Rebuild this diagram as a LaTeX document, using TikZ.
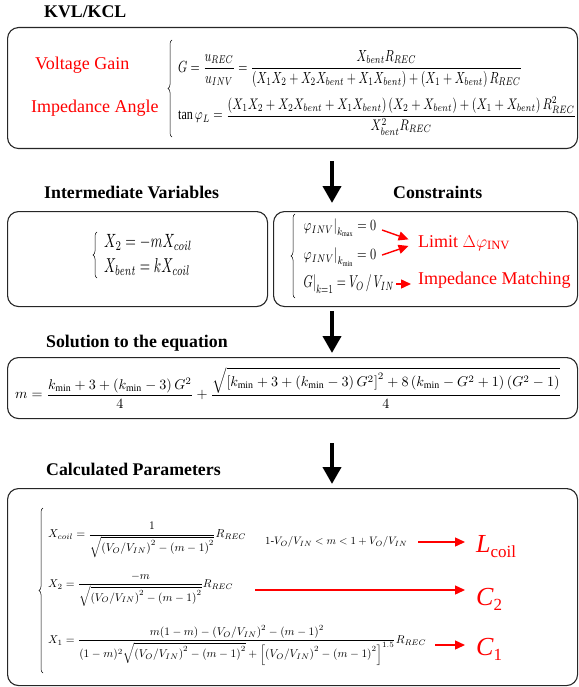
\documentclass[tikz,border=0pt]{standalone}
\usepackage{amsmath}
\usepackage{fontspec}
\setmainfont{Liberation Serif}
\usetikzlibrary{arrows.meta,decorations.pathreplacing,calc}
\newcommand\eqw[2]{\resizebox{#1}{!}{$\displaystyle #2$}}
\newcommand\eqwh[3]{\resizebox*{#1}{#2}{$\displaystyle #3$}}
\newcommand\redsym[2]{{\itshape #1}\raisebox{-0.22em}{\fontsize{17}{18}\selectfont #2}}
\begin{document}
\begin{tikzpicture}[x=1pt,y=1pt,
 box/.style={draw=black!85,line width=1.1pt,rounded corners=11pt,anchor=north west,inner sep=0},
 ttl/.style={font=\rmfamily\fontsize{17.8}{20}\selectfont\bfseries,inner sep=0,anchor=base west},
 lbl/.style={font=\rmfamily\fontsize{18}{20}\selectfont,text=red,inner sep=0,anchor=base west},
 lblb/.style={font=\rmfamily\fontsize{26}{28}\selectfont,text=red,inner sep=0,anchor=base west},
 eq/.style={inner sep=0,anchor=west},
 bigarrow/.style={line width=4pt,-{Triangle[length=17pt,width=18pt]}},
 redarrow/.style={red,line width=1.4pt,-{Triangle[length=10pt,width=9pt]}},
 brc/.style={decorate,decoration={brace,amplitude=4pt},line width=0.5pt}]
\useasboundingbox (0,0) rectangle (578,-687);

% titles
\node[ttl] (t1) at (44,-18) {KVL/KCL};
\node[ttl] (t2) at (44,-198) {Intermediate Variables};
\node[ttl] (t3) at (393,-198) {Constraints};
\node[ttl] (t4) at (46,-347) {Solution to the equation};
\node[ttl] (t5) at (46,-475) {Calculated Parameters};

% boxes
\node[box,minimum width=570pt,minimum height=121pt] (b1) at (7,-27) {};
\node[box,minimum width=260pt,minimum height=95pt] (b2) at (7,-211) {};
\node[box,minimum width=304pt,minimum height=95pt] (b3) at (273,-211) {};
\node[box,minimum width=570pt,minimum height=61pt] (b4) at (7,-357) {};
\node[box,minimum width=570pt,minimum height=197pt] (b5) at (7,-488) {};

% big arrows
\coordinate (ax) at (332,0);
\draw[bigarrow] ($(b1.south -| ax)+(0,-12)$) -- ($(b2.north -| ax)+(0,8)$);
\draw[bigarrow] ($(b3.south -| ax)+(0,-4)$) -- ($(b4.north -| ax)+(0,4)$);
\draw[bigarrow] ($(b4.south -| ax)+(0,-24)$) -- ($(b5.north -| ax)+(0,4)$);

% box 1
\node[lbl] (vg) at (35,-70) {Voltage Gain};
\node[lbl] (ia) at (31,-113) {Impedance Angle};
\draw[brc] (172,-137) -- (172,-40);
\node[eq] (geq) at (178,-69) {\eqwh{344pt}{37pt}{G=\frac{u_{REC}}{u_{INV}}=\frac{X_{bent}R_{REC}}{\left(X_1X_2+X_2X_{bent}+X_1X_{bent}\right)+\left(X_1+X_{bent}\right)R_{REC}}}};
\node[eq] (teq) at (178,-116) {\eqwh{398pt}{38pt}{\tan\varphi_L=\frac{\left(X_1X_2+X_2X_{bent}+X_1X_{bent}\right)\left(X_2+X_{bent}\right)+\left(X_1+X_{bent}\right)R_{REC}^2}{X_{bent}^2R_{REC}}}};

% box 2
\draw[brc] (97,-278) -- (97,-232);
\node[eq] (iv1) at (104,-242) {\eqwh{88pt}{16pt}{X_2=-mX_{coil}}};
\node[eq] (iv2) at (104,-267) {\eqwh{86pt}{17pt}{X_{bent}=kX_{coil}}};

% box 3
\draw[brc] (295,-298) -- (295,-214);
\node[eq] (c1) at (302,-228) {\eqwh{74pt}{18pt}{\left.\varphi_{INV}\right|_{k_{\max}}=0}};
\node[eq] (c2) at (302,-257) {\eqwh{74pt}{18pt}{\left.\varphi_{INV}\right|_{k_{\min}}=0}};
\node[eq] (c3) at (302,-284) {\eqwh{92pt}{18pt}{\left.G\right|_{k=1}=V_O\,/\,V_{IN}}};
\node[lbl] (lim) at (418,-247) {Limit $\Delta\varphi_{\mathrm{INV}}$};
\node[lbl] (imp) at (418,-284) {Impedance Matching};
\draw[redarrow,shorten <=6pt,shorten >=10pt] (c1.east) -- (lim.west);
\draw[redarrow,shorten <=6pt,shorten >=10pt] (c2.east) -- (lim.west);
\draw[redarrow,shorten <=2pt,shorten >=7pt] (c3.east) -- (c3.east -| imp.west);

% box 4
\node[eq] (meq) at (15,-388) {\eqw{546pt}{m=\frac{k_{\min}+3+\left(k_{\min}-3\right)G^2}{4}+\frac{\sqrt{\left[k_{\min}+3+\left(k_{\min}-3\right)G^2\right]^2+8\left(k_{\min}-G^2+1\right)\left(G^2-1\right)}}{4}}};

% box 5
\draw[brc] (43,-673) -- (43,-508);
\node[eq] (x3) at (48,-540) {\eqw{198pt}{X_{coil}=\frac{1}{\sqrt{\left(V_O/V_{IN}\right)^2-\left(m-1\right)^2}}R_{REC}}};
\node[eq] (rng) at (265,-542) {\eqw{142pt}{1\mbox{-}V_O/V_{IN}<m<1+V_O/V_{IN}}};
\node[eq] (x2) at (48,-590) {\eqw{185pt}{X_2=\frac{-m}{\sqrt{\left(V_O/V_{IN}\right)^2-\left(m-1\right)^2}}R_{REC}}};
\node[eq] (x1) at (48,-645) {\eqw{378pt}{X_1=\frac{m(1-m)-\left(V_O/V_{IN}\right)^2-\left(m-1\right)^2}{(1-m)^2\sqrt{\left(V_O/V_{IN}\right)^2-\left(m-1\right)^2}+\left[\left(V_O/V_{IN}\right)^2-\left(m-1\right)^2\right]^{1.5}}R_{REC}}};
\node[lblb] (lc) at (476,-552) {\redsym{L}{coil}};
\node[lblb] (c2l) at (476,-605) {\redsym{C}{2}};
\node[lblb] (c1l) at (476,-655) {\redsym{C}{1}};
\draw[redarrow,shorten <=11pt,shorten >=11pt] (rng.east) -- (rng.east -| lc.west);
\draw[redarrow,shorten <=22pt,shorten >=11pt] (x2.east) -- (x2.east -| c2l.west);
\draw[redarrow,shorten <=9pt,shorten >=11pt] (x1.east) -- (x1.east -| c1l.west);
\end{tikzpicture}
\end{document}
